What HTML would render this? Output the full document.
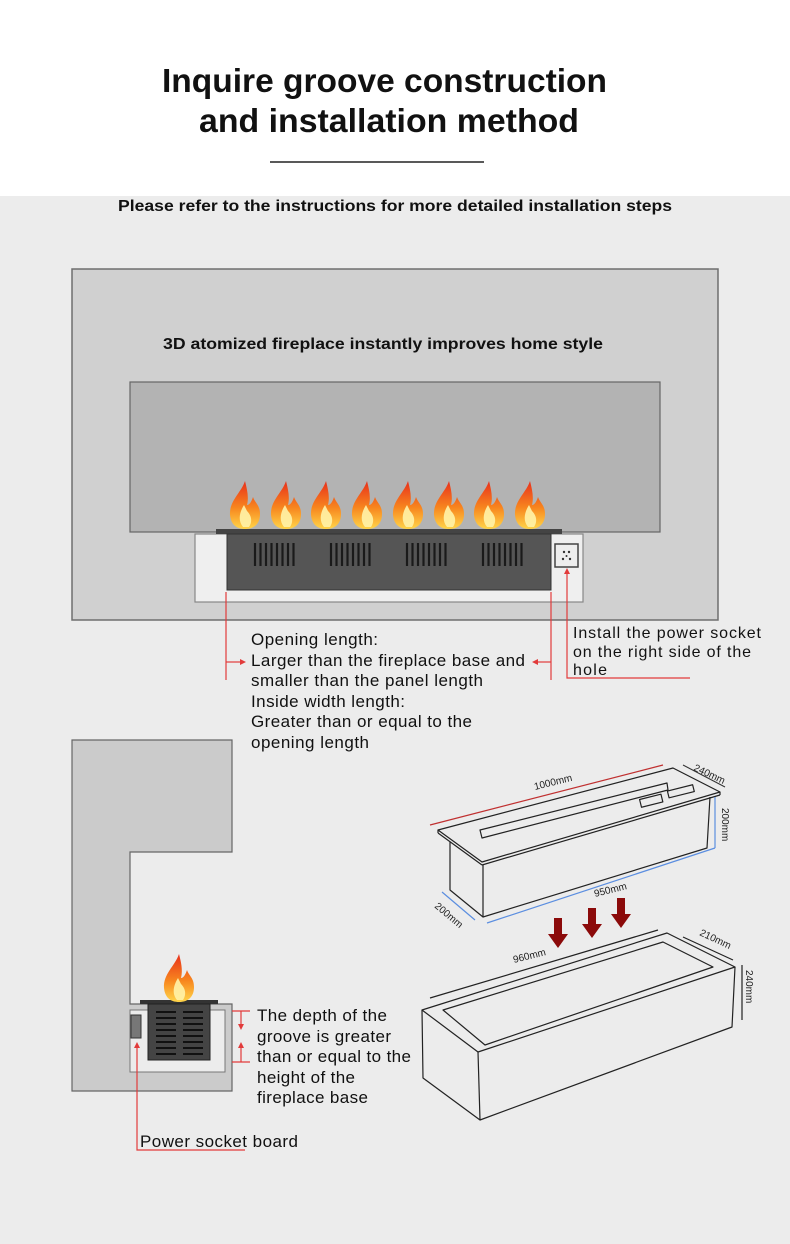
<!DOCTYPE html>
<html><head><meta charset="utf-8"><style>
html,body{margin:0;padding:0;width:790px;height:1244px;overflow:hidden;background:#ececec;font-family:"Liberation Sans",sans-serif}
svg{display:block}
</style></head><body>
<svg width="790" height="1244" viewBox="0 0 790 1244" xmlns="http://www.w3.org/2000/svg" font-family="Liberation Sans, sans-serif">
<defs>
<linearGradient id="fl" x1="0" y1="0" x2="0" y2="1"><stop offset="0" stop-color="#e8301c"/><stop offset="0.55" stop-color="#f7851e"/><stop offset="1" stop-color="#ffd54a"/></linearGradient>
<g id="flame"><path d="M0,-46 C-4,-34 -16,-26 -15,-12 C-14,-2 -8,2 0,2 C9,2 15,-3 15,-13 C15,-22 10,-24 8,-30 C6,-24 4,-22 2,-22 C4,-30 2,-38 0,-46Z" fill="url(#fl)"/><path d="M-1,-22 C-6,-14 -7,-6 -2,0 L4,0 C8,-6 6,-12 2,-16 Z" fill="#fff3a8" opacity="0.9"/></g>
<g id="vent"><g stroke="#1a1a1a" stroke-width="2.2"><line x1="2" y1="0" x2="2" y2="23"/><line x1="7.5" y1="0" x2="7.5" y2="23"/><line x1="13" y1="0" x2="13" y2="23"/><line x1="18.5" y1="0" x2="18.5" y2="23"/><line x1="24" y1="0" x2="24" y2="23"/><line x1="29.5" y1="0" x2="29.5" y2="23"/><line x1="35" y1="0" x2="35" y2="23"/><line x1="40.5" y1="0" x2="40.5" y2="23"/></g></g>
</defs>
<rect x="0" y="0" width="790" height="196" fill="#ffffff"/>
<text x="162" y="92" font-size="33" font-weight="bold" fill="#111" textLength="445" lengthAdjust="spacingAndGlyphs">Inquire groove construction</text>
<text x="199" y="132" font-size="33" font-weight="bold" fill="#111" textLength="380" lengthAdjust="spacingAndGlyphs">and installation method</text>
<line x1="270" y1="162" x2="484" y2="162" stroke="#222" stroke-width="1.5"/>
<text x="118" y="211" font-size="16" font-weight="bold" fill="#111" textLength="554" lengthAdjust="spacingAndGlyphs">Please refer to the instructions for more detailed installation steps</text>

<rect x="72" y="269" width="646" height="351" fill="#d0d0d0" stroke="#6e6e6e" stroke-width="1.5"/>
<text x="163" y="349" font-size="16" font-weight="bold" fill="#111" textLength="440" lengthAdjust="spacingAndGlyphs">3D atomized fireplace instantly improves home style</text>
<rect x="130" y="382" width="530" height="150" fill="#b3b3b3" stroke="#666" stroke-width="1.2"/>
<rect x="195" y="534" width="388" height="68" fill="#efefef" stroke="#888" stroke-width="1.2"/>
<rect x="216" y="529" width="346" height="5" fill="#444"/>
<rect x="227" y="534" width="324" height="56" fill="#555" stroke="#333"/>
<use href="#vent" x="253" y="543"/><use href="#vent" x="329" y="543"/><use href="#vent" x="405" y="543"/><use href="#vent" x="481" y="543"/>
<rect x="555" y="544" width="23" height="23" fill="#eee" stroke="#444" stroke-width="1.5"/>
<g fill="#333"><circle cx="564" cy="552" r="1.2"/><circle cx="569" cy="552" r="1.2"/><circle cx="563" cy="559" r="1.2"/><circle cx="570" cy="559" r="1.2"/><circle cx="566.5" cy="556" r="1"/></g>
<use href="#flame" x="245" y="527"/><use href="#flame" x="286" y="527"/><use href="#flame" x="326" y="527"/><use href="#flame" x="367" y="527"/><use href="#flame" x="408" y="527"/><use href="#flame" x="449" y="527"/><use href="#flame" x="489" y="527"/><use href="#flame" x="530" y="527"/>

<g stroke="#e23b3b" stroke-width="1.2" fill="none">
<line x1="226" y1="592" x2="226" y2="680"/><line x1="226" y1="662" x2="240" y2="662"/>
<line x1="551" y1="592" x2="551" y2="680"/><line x1="537" y1="662" x2="551" y2="662"/>
<polyline points="567,572 567,678 690,678"/>
</g>
<g fill="#e23b3b"><path d="M246,662 l-6,-3 v6z"/><path d="M532,662 l6,-3 v6z"/><path d="M567,568 l-3,6 h6z"/></g>
<g font-size="17" fill="#111" lengthAdjust="spacingAndGlyphs">
<text x="251" y="645" textLength="127">Opening length:</text>
<text x="251" y="666" textLength="274">Larger than the fireplace base and</text>
<text x="251" y="686" textLength="232">smaller than the panel length</text>
<text x="251" y="707" textLength="154">Inside width length:</text>
<text x="251" y="727" textLength="221">Greater than or equal to the</text>
<text x="251" y="748" textLength="118">opening length</text>
</g>
<g font-size="16" fill="#111">
<text x="573" y="638" textLength="188">Install the power socket</text>
<text x="573" y="657" textLength="178">on the right side of the</text>
<text x="573" y="675" textLength="34">hole</text>
</g>

<path d="M72,740 H232 V852 H130 V1004 H232 V1091 H72 Z" fill="#cbcbcb" stroke="#666" stroke-width="1.2"/>
<rect x="130" y="1010" width="95" height="62" fill="#ececec" stroke="#777" stroke-width="1"/>
<rect x="140" y="1000" width="78" height="4" fill="#333"/>
<rect x="148" y="1004" width="62" height="56" fill="#444" stroke="#222"/>
<g stroke="#111" stroke-width="2">
<line x1="156" y1="1012" x2="176" y2="1012"/><line x1="156" y1="1018" x2="176" y2="1018"/><line x1="156" y1="1024" x2="176" y2="1024"/><line x1="156" y1="1030" x2="176" y2="1030"/><line x1="156" y1="1036" x2="176" y2="1036"/><line x1="156" y1="1042" x2="176" y2="1042"/><line x1="156" y1="1048" x2="176" y2="1048"/><line x1="156" y1="1054" x2="176" y2="1054"/>
<line x1="183" y1="1012" x2="203" y2="1012"/><line x1="183" y1="1018" x2="203" y2="1018"/><line x1="183" y1="1024" x2="203" y2="1024"/><line x1="183" y1="1030" x2="203" y2="1030"/><line x1="183" y1="1036" x2="203" y2="1036"/><line x1="183" y1="1042" x2="203" y2="1042"/><line x1="183" y1="1048" x2="203" y2="1048"/><line x1="183" y1="1054" x2="203" y2="1054"/>
</g>
<rect x="131" y="1015" width="10" height="23" fill="#777" stroke="#333"/>
<use href="#flame" x="179" y="1000"/>
<g stroke="#e23b3b" stroke-width="1.2" fill="none">
<line x1="232" y1="1011" x2="250" y2="1011"/><line x1="241" y1="1011" x2="241" y2="1026"/>
<line x1="232" y1="1062" x2="250" y2="1062"/><line x1="241" y1="1046" x2="241" y2="1062"/>
<polyline points="137,1046 137,1150 245,1150"/>
</g>
<g fill="#e23b3b"><path d="M241,1030 l-3,-6 h6z"/><path d="M241,1042 l-3,6 h6z"/><path d="M137,1042 l-3,6 h6z"/></g>
<g font-size="17" fill="#111">
<text x="257" y="1021" textLength="130">The depth of the</text>
<text x="257" y="1042" textLength="134">groove is greater</text>
<text x="257" y="1062" textLength="154">than or equal to the</text>
<text x="257" y="1083" textLength="98">height of the</text>
<text x="257" y="1103" textLength="111">fireplace base</text>
<text x="140" y="1147" textLength="158">Power socket board</text>
</g>

<g fill="none" stroke="#222" stroke-width="1.2" stroke-linejoin="round">
<polygon points="438,830 673,768 720,792 482,862"/>
<line x1="438" y1="830" x2="438" y2="833"/><line x1="438" y1="833" x2="482" y2="865"/><line x1="482" y1="865" x2="720" y2="795"/><line x1="720" y1="792" x2="720" y2="795"/>
<polyline points="450,842 450,890 483,917 707,848 710,797"/>
<line x1="483" y1="865" x2="483" y2="917"/>
<polygon points="480,830 667,783 668,790 482,838"/>
<rect x="640" y="797" width="22" height="8" transform="rotate(-14 650 800)"/>
<rect x="668" y="788" width="26" height="7" transform="rotate(-14 680 792)"/>
<polygon points="422,1010 667,933 735,967 478,1052"/>
<polygon points="443,1010 663,942 713,967 485,1045"/>
<polyline points="478,1052 480,1120 732,1027 735,967"/>
<polyline points="422,1010 423,1078 480,1120"/>
</g>
<g stroke="#c03030" stroke-width="1.2"><line x1="430" y1="825" x2="663" y2="765"/></g>
<g stroke="#333" stroke-width="1"><line x1="683" y1="765" x2="725" y2="787"/></g>
<g stroke="#5b8ee0" stroke-width="1.2"><line x1="487" y1="923" x2="715" y2="848"/><line x1="715" y1="797" x2="715" y2="848"/><line x1="442" y1="892" x2="475" y2="920"/></g>
<g stroke="#222" stroke-width="1.2"><line x1="430" y1="998" x2="658" y2="930"/><line x1="683" y1="937" x2="733" y2="960"/><line x1="742" y1="965" x2="742" y2="1020"/></g>
<g fill="#8b0a0a">
<path d="M554,918 h8 v16 h6 l-10,14 l-10,-14 h6z"/>
<path d="M588,908 h8 v16 h6 l-10,14 l-10,-14 h6z"/>
<path d="M617,898 h8 v16 h6 l-10,14 l-10,-14 h6z"/>
</g>
<g font-size="10" fill="#222">
<text x="535" y="790" transform="rotate(-14 535 790)">1000mm</text>
<text x="693" y="770" transform="rotate(25 693 770)">240mm</text>
<text x="722" y="808" transform="rotate(90 722 808)">200mm</text>
<text x="595" y="897" transform="rotate(-14 595 897)">950mm</text>
<text x="434" y="907" transform="rotate(40 434 907)">200mm</text>
<text x="514" y="963" transform="rotate(-14 514 963)">960mm</text>
<text x="699" y="935" transform="rotate(25 699 935)">210mm</text>
<text x="746" y="970" transform="rotate(90 746 970)">240mm</text>
</g>
</svg>
</body></html>
